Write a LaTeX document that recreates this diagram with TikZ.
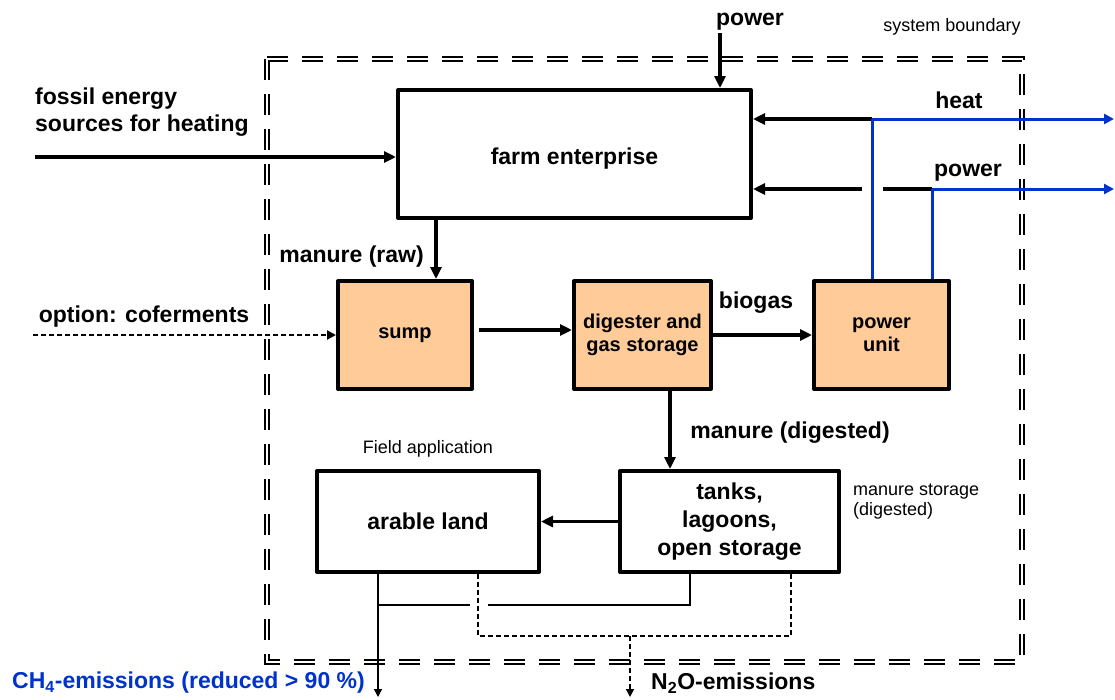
\documentclass[tikz,border=0pt]{standalone}
\usepackage{fontspec}
\setmainfont{Liberation Sans}
\usetikzlibrary{arrows.meta}
\definecolor{peach}{HTML}{FFCC99}
\definecolor{myblue}{HTML}{0033CC}
\begin{document}
\begin{tikzpicture}[x=1pt,y=-1pt,
  big/.style={font=\fontsize{23}{27}\selectfont\bfseries, inner sep=0pt},
  small/.style={font=\fontsize{18}{20}\selectfont, inner sep=0pt},
  boxlbl/.style={font=\fontsize{20}{23}\selectfont\bfseries, align=center},
  biglbl/.style={font=\fontsize{23}{28}\selectfont\bfseries, align=center},
  plainbox/.style={draw, line width=4pt, line join=round, inner sep=0pt},
  peachbox/.style={plainbox, fill=peach},
  arr/.style={line width=3.5pt, -{Triangle[length=12pt,width=11pt]}},
  thickline/.style={line width=3.5pt},
  bluearr/.style={myblue, line width=3pt, -{Triangle[length=10pt,width=10pt]}},
  blueline/.style={myblue, line width=3pt},
  thinarr/.style={line width=1.5pt, -{Triangle[length=8pt,width=8pt]}},
  thinline/.style={line width=1.5pt},
  dasharr/.style={line width=2pt, dash pattern=on 5pt off 3pt, -{Triangle[length=9pt,width=9pt]}},
  thindash/.style={line width=1.5pt, dash pattern=on 5pt off 3pt},
  thindasharr/.style={thindash, -{Triangle[length=8pt,width=8pt]}},
  boundary/.style={line width=2.4pt, double, double distance=1.6pt, dash pattern=on 21pt off 14pt}
]
\useasboundingbox (0,0) rectangle (1115,699);

% system boundary
\draw[boundary] (267,59) rectangle (1022,662);
\node[small] (sb) at (952,27) {system boundary};

% boxes
\node[plainbox, minimum width=353pt, minimum height=128pt, biglbl] (farm) at (574.5,154) {\rule{0pt}{25pt}farm enterprise};
\node[peachbox, minimum width=134pt, minimum height=108pt, boxlbl] (sump) at (405,335) {sump};
\node[peachbox, minimum width=137pt, minimum height=108pt, boxlbl] (dig) at (642.5,335) {digester and\\gas storage};
\node[peachbox, minimum width=135pt, minimum height=108pt, boxlbl] (pu) at (881.5,335) {power\\unit};
\node[plainbox, minimum width=219pt, minimum height=101pt, biglbl] (tanks) at (729.5,521.5) {tanks,\\lagoons,\\open storage};
\node[plainbox, minimum width=222pt, minimum height=101pt, biglbl] (arable) at (428,521.5) {arable land};

% labels
\node[big] (ptop) at (750,22) {power};
\node[big, anchor=west, align=left] (fossil) at (35,112) {fossil energy\\sources for heating};
\node[big] (heatl) at (959,100) {heat};
\node[big] (powl) at (968,173) {power};
\node[big, anchor=east] (raw) at (424,257) {manure (raw)};
\node[big] (cof) at (144,317) {option: coferments};
\node[big] (bio) at (756,303) {biogas};
\node[big] (mdig) at (790,433) {manure (digested)};
\node[small] (field) at (428,449) {Field application};
\node[small, anchor=west, align=left] (mstore) at (853,502) {manure storage\\(digested)};
\node[big, anchor=west, text=myblue] (ch4) at (12,683) {CH\textsubscript{4}-emissions (reduced > 90 \%)};
\node[big, anchor=west] (n2o) at (651,683) {N\textsubscript{2}O-emissions};

% coordinates
\coordinate (pwstart) at (720,33);
\coordinate (fosstart) at (35,157);
\coordinate (hj) at (872,119);
\coordinate (hend) at (1114,119);
\coordinate (pj1) at (862,189);
\coordinate (pj2) at (883,189);
\coordinate (pj3) at (932,189);
\coordinate (pend) at (1114,189);
\coordinate (cofstart) at (33,335);
\coordinate (rawx) at (436,0);
\coordinate (digx) at (670,0);
\coordinate (ch4end) at (378,697);
\coordinate (sl) at (378,605);
\coordinate (sg1) at (470,605);
\coordinate (sg2) at (488,605);
\coordinate (sr) at (690,605);
\coordinate (dl) at (478,636);
\coordinate (dr) at (791,636);
\coordinate (dm) at (630,636);
\coordinate (n2oend) at (630,697);

% connectors
\draw[arr] (pwstart) -- (pwstart |- farm.north);
\draw[arr] (fosstart) -- (fosstart -| farm.west);
\draw[arr] (hj) -- (hj -| farm.east);
\draw[bluearr] (hj) -- (hend);
\draw[blueline] (hj) -- (hj |- pu.north);
\draw[arr] (pj1) -- (pj1 -| farm.east);
\draw[thickline] (pj2) -- (pj3);
\draw[bluearr] (pj3) -- (pend);
\draw[blueline] (pj3) -- (pj3 |- pu.north);
\draw[arr] (rawx |- farm.south) -- (rawx |- sump.north);
\draw[arr, shorten <=5pt] (sump.east |- 0,330) -- (dig.west |- 0,330);
\draw[arr] (dig.east) -- (pu.west);
\draw[dasharr] (cofstart) -- (sump.west);
\draw[arr] (digx |- dig.south) -- (digx |- tanks.north);
\draw[arr] (tanks.west) -- (arable.east);
\draw[thinarr] (ch4end |- arable.south) -- (ch4end);
\draw[thinline] (sl) -- (sg1);
\draw[thinline] (sg2) -- (sr) -- (sr |- tanks.south);
\draw[thindash] (dl |- arable.south) -- (dl) -- (dr) -- (dr |- tanks.south);
\draw[thindasharr] (dm) -- (n2oend);
\end{tikzpicture}
\end{document}
